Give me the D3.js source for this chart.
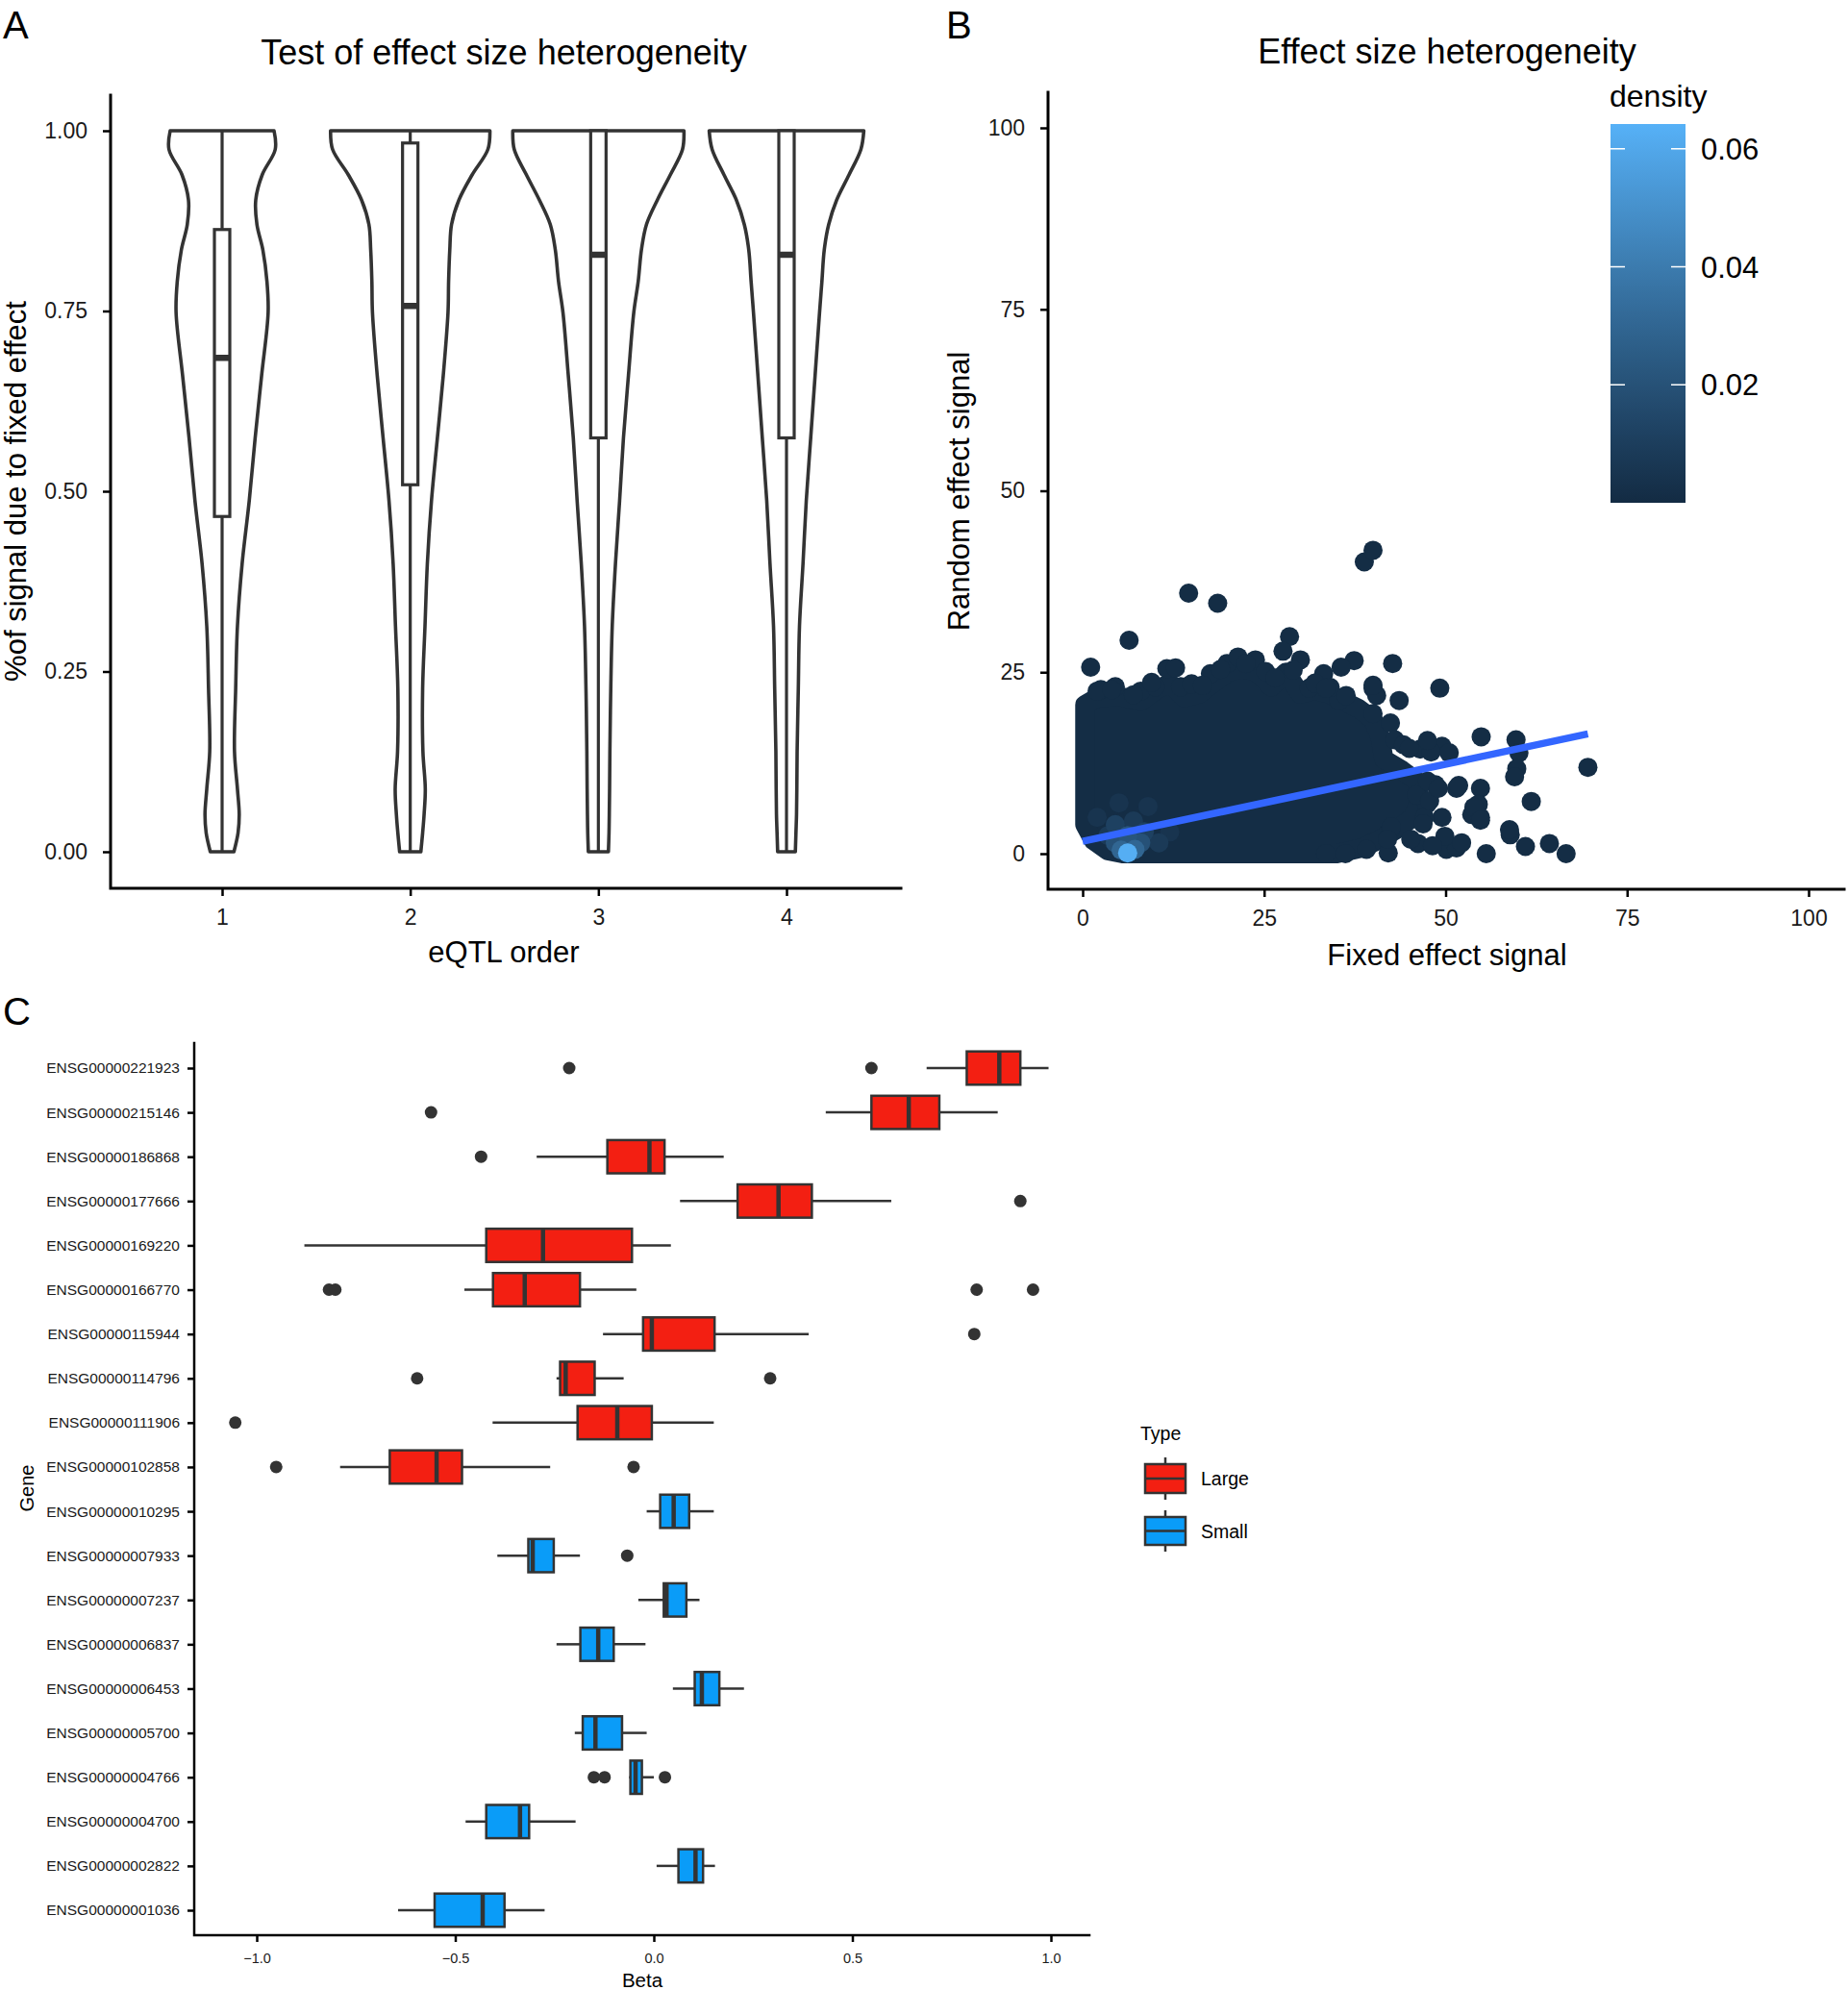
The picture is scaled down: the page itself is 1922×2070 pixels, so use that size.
<!DOCTYPE html>
<html><head><meta charset="utf-8">
<script src="https://cdn.jsdelivr.net/npm/d3@7"></script>
<style>
body{margin:0;background:#fff;}
svg{display:block;}
</style>
</head><body>
<svg id="fig" width="1922" height="2070"></svg>
<script>
// ================= DATA =================
// ---- Panel A: violins (eQTL order) ----
const violinOrders = [1, 2, 3, 4];
const violinGrid = [0, 0.026, 0.052, 0.087, 0.139, 0.226, 0.313, 0.4, 0.487, 0.574, 0.661, 0.748, 0.791, 0.835, 0.870, 0.904, 0.939, 0.974, 1.0];
const violinDensity1 = [0.20,0.27,0.29,0.26,0.21,0.23,0.26,0.34,0.46,0.56,0.67,0.78,0.76,0.69,0.59,0.57,0.68,0.90,0.88];
const violinDensity2 = [0.18,0.21,0.235,0.255,0.215,0.21,0.25,0.29,0.36,0.46,0.56,0.64,0.65,0.67,0.70,0.825,1.05,1.315,1.35];
const violinDensity3 = [0.17,0.18,0.185,0.19,0.195,0.21,0.235,0.29,0.36,0.425,0.51,0.60,0.675,0.73,0.815,1.00,1.22,1.425,1.45];
const violinDensity4 = [0.15,0.16,0.17,0.175,0.18,0.20,0.22,0.28,0.335,0.41,0.485,0.56,0.60,0.64,0.715,0.85,1.06,1.26,1.31];
const aBoxLower  = [0, 0, 0, 0];
const aBoxQ1     = [0.465, 0.509, 0.574, 0.574];
const aBoxMedian = [0.685, 0.757, 0.828, 0.828];
const aBoxQ3     = [0.863, 0.983, 1.0, 1.0];
const aBoxUpper  = [1, 1, 1, 1];
const aYTicks = [0, 0.25, 0.5, 0.75, 1.0];

// ---- Panel B: fixed vs random effect signal ----
const bTicks = [0, 25, 50, 75, 100];
// outline of the dense, fully overlapping point cloud (point centres)
const blobX = [0.3,0.3,2,5,8,10,12,14,16,18,20,22,24,26,28,30,32,34,36,38,40,41,41.5,44,46,46.5,45.5,43.5,41,38.5,35,5.5,3.5,1.5];
const blobY = [4,20.5,21.5,21.7,21,22.5,23.5,21.5,22,23.5,25,25.5,25,23,25,22,22.5,22,21,20,18.5,16,13,11.5,10,7.5,5,3.5,2,0.8,0,0,0.4,1.8];
// individual points around the dense cloud
const ptX = [1.1,6.4,14.6,18.6,38.8,40.0,28.5,27.6,42.7,37.4,35.6,33.2,43.6,40.0,40.5,49.2,11.6,12.8,17.6,19.9,21.4,23.8,25.2,30.0,31.2,35.3,40.0,42.4,43.0,44.2,46.5,49.5,54.9,59.7,60.1,59.8,59.5,69.6,61.8,54.8,54.5,54.8,53.6,51.5,49.5,48.6,47.4,47.1,46.2,50.1,51.5,42.1,42.4,39.1,36.2,33.5,55.6,58.9,61.0,64.3,66.6,8.0,10.0,2.5,4.5,34.1,36.3,40.0,51.8,53.9,54.8,46.0,47.8,46.9,42.5,42.0,45.2,49.9,52.2,48.2,58.8,47.5,49.0,45.0,48.0,47.5,50.5,2.0,4.0,7.0,9.5,13.5,15.0,16.5,19.0,22.5,26.5,29.0,32.0,33.5];
const ptY = [25.7,29.4,35.9,34.5,40.2,41.8,29.9,27.9,26.2,26.6,25.7,24.8,21.1,22.8,21.8,22.8,25.5,25.6,24.8,26.2,27.1,26.7,25.1,26.7,22.8,21.1,19.3,18.0,15.7,15.0,14.4,14.8,16.1,15.7,13.9,11.7,10.6,11.9,7.2,9.0,6.8,5.0,5.4,9.0,5.0,9.5,6.8,5.0,1.4,0.6,0.8,0.1,3.2,0.6,0,0,0,2.6,1.0,1.4,0,22.4,23.0,22.6,23.0,22.9,21.8,23.2,9.4,6.4,4.6,8.1,7.3,4.1,3.7,2.0,2.0,2.4,1.5,1.1,3.3,10.0,9.0,14.5,14.0,15.6,13.9,22.4,22.6,21.9,23.6,23.0,23.4,23.2,25.4,26.2,24.2,25.3,23.5,22.8];
// denser (lighter) points in the lower-left corner, with their density
const lightX = [2,5,9,12,3.5,7,10.5,4.5,8.5,4.5,8.0,6.2,5.3,7.2,6.2];
const lightY = [5,7,6.5,3,2.5,4.5,1.5,4,3,1.5,1.5,2.5,0.5,0.6,0.1];
const lightD = [0.005,0.005,0.005,0.005,0.008,0.008,0.008,0.012,0.012,0.02,0.02,0.022,0.03,0.03,0.063];
const blobDensity = 0.001;
const lmX = [0, 69.6];
const lmY = [1.7, 16.5];
const densityTicks = [0.02, 0.04, 0.06];
const densityRange = [0, 0.0642];

// ---- Panel C: per-gene beta boxplots ----
const genes = ["ENSG00000221923","ENSG00000215146","ENSG00000186868","ENSG00000177666","ENSG00000169220","ENSG00000166770","ENSG00000115944","ENSG00000114796","ENSG00000111906","ENSG00000102858","ENSG00000010295","ENSG00000007933","ENSG00000007237","ENSG00000006837","ENSG00000006453","ENSG00000005700","ENSG00000004766","ENSG00000004700","ENSG00000002822","ENSG00000001036"];
const geneType = ["Large","Large","Large","Large","Large","Large","Large","Large","Large","Large","Small","Small","Small","Small","Small","Small","Small","Small","Small","Small"];
const cLower  = [0.687,0.433,-0.295,0.066,-0.880,-0.477,-0.128,-0.245,-0.406,-0.790,-0.018,-0.394,-0.039,-0.245,0.048,-0.199,-0.062,-0.474,0.007,-0.644];
const cQ1     = [0.788,0.548,-0.117,0.211,-0.422,-0.405,-0.027,-0.236,-0.192,-0.665,0.016,-0.316,0.025,-0.185,0.103,-0.179,-0.059,-0.422,0.062,-0.552];
const cMedian = [0.870,0.642,-0.011,0.314,-0.279,-0.325,-0.005,-0.222,-0.092,-0.547,0.050,-0.305,0.032,-0.140,0.121,-0.147,-0.046,-0.337,0.105,-0.431];
const cQ3     = [0.923,0.719,0.027,0.398,-0.055,-0.186,0.153,-0.149,-0.005,-0.483,0.089,-0.252,0.082,-0.101,0.165,-0.080,-0.030,-0.314,0.124,-0.376];
const cUpper  = [0.994,0.866,0.176,0.598,0.043,-0.044,0.390,-0.076,0.151,-0.261,0.151,-0.186,0.115,-0.021,0.227,-0.018,0.000,-0.197,0.154,-0.275];
const outlierGene = ["ENSG00000221923","ENSG00000221923","ENSG00000215146","ENSG00000186868","ENSG00000177666","ENSG00000166770","ENSG00000166770","ENSG00000166770","ENSG00000166770","ENSG00000115944","ENSG00000114796","ENSG00000114796","ENSG00000111906","ENSG00000102858","ENSG00000102858","ENSG00000007933","ENSG00000004766","ENSG00000004766","ENSG00000004766"];
const outlierBeta = [-0.213,0.548,-0.561,-0.435,0.923,-0.818,-0.802,0.813,0.955,0.807,-0.596,0.293,-1.054,-0.951,-0.051,-0.067,-0.151,-0.124,0.028];
const cTicks = [-1.0, -0.5, 0.0, 0.5, 1.0];
const typeNames = ["Large", "Small"];
const typeColors = ["#F31F12", "#0A9CF8"];

// ================= DRAWING =================
const FONT = '"Liberation Sans", Arial, Helvetica, sans-serif';
const INK = '#333333';
const svg = d3.select('#fig').attr('font-family', FONT);

function styleAxis(g, fs) {
  g.attr('font-family', FONT);
  g.select('.domain').remove();
  g.selectAll('.tick line').attr('stroke', '#000').attr('stroke-width', 2.5);
  g.selectAll('.tick text').attr('fill', '#1a1a1a').style('font-size', fs + 'px');
}
function axisLines(g, x0, yTop, yBot, xEnd, w) {
  g.append('path').attr('d', `M${x0},${yTop}V${yBot}H${xEnd}`)
    .attr('fill', 'none').attr('stroke', '#000').attr('stroke-width', w).attr('stroke-linecap', 'square');
}
function label(g, txt, x, y, fs, anchor, rot) {
  const t = g.append('text').text(txt).attr('x', x).attr('y', y)
    .attr('font-size', fs).attr('text-anchor', anchor || 'middle').attr('fill', '#000');
  if (rot) t.attr('transform', `rotate(${rot},${x},${y})`);
  return t;
}

// ---------- Panel A ----------
(function () {
  const g = svg.append('g');
  const x = d3.scalePoint().domain(violinOrders).range([231, 818]);
  const y = d3.scaleLinear().domain([0, 1]).range([886, 136]);
  const w = d3.scaleLinear().domain([0, 1.45]).range([0, 89]);
  const dens = [violinDensity1, violinDensity2, violinDensity3, violinDensity4];
  violinOrders.forEach((o, i) => {
    const pts = violinGrid.map((v, j) => ({ v, d: dens[i][j] }));
    const area = d3.area().y(d => y(d.v)).x0(d => x(o) - w(d.d)).x1(d => x(o) + w(d.d))
      .curve(d3.curveCatmullRom.alpha(0.5));
    g.append('path').attr('d', area(pts)).attr('fill', '#fff').attr('stroke', INK)
      .attr('stroke-width', 3.6).attr('stroke-linejoin', 'round');
    const cx = x(o), bw = 16;
    g.append('line').attr('x1', cx).attr('x2', cx).attr('y1', y(aBoxLower[i])).attr('y2', y(aBoxQ1[i]))
      .attr('stroke', INK).attr('stroke-width', 3.2);
    g.append('line').attr('x1', cx).attr('x2', cx).attr('y1', y(aBoxQ3[i])).attr('y2', y(aBoxUpper[i]))
      .attr('stroke', INK).attr('stroke-width', 3.2);
    g.append('rect').attr('x', cx - bw / 2).attr('width', bw).attr('y', y(aBoxQ3[i]))
      .attr('height', y(aBoxQ1[i]) - y(aBoxQ3[i])).attr('fill', '#fff').attr('stroke', INK).attr('stroke-width', 3.2);
    g.append('line').attr('x1', cx - bw / 2).attr('x2', cx + bw / 2).attr('y1', y(aBoxMedian[i])).attr('y2', y(aBoxMedian[i]))
      .attr('stroke', INK).attr('stroke-width', 6.5);
  });
  const ay = g.append('g').attr('transform', 'translate(115,0)')
    .call(d3.axisLeft(y).tickValues(aYTicks).tickFormat(d3.format('.2f')).tickSize(8).tickPadding(16));
  styleAxis(ay, 23);
  const ax = g.append('g').attr('transform', 'translate(0,924)')
    .call(d3.axisBottom(x).tickSize(8).tickPadding(14));
  styleAxis(ax, 23);
  axisLines(g, 115, 99, 924, 937, 3);
  label(g, 'Test of effect size heterogeneity', 524, 67, 36);
  label(g, 'eQTL order', 524, 1001, 31);
  label(g, '%of signal due to fixed effect', 27, 511, 31, 'middle', -90);
  label(g, 'A', 3, 40, 40, 'start');
})();

// ---------- Panel B ----------
(function () {
  const g = svg.append('g');
  const x = d3.scaleLinear().domain([0, 100]).range([1126, 1881]);
  const y = d3.scaleLinear().domain([0, 100]).range([888, 133]);
  const col = d3.scaleLinear().domain(densityRange).range(['#132B43', '#56B1F7']).interpolate(d3.interpolateLab);
  const r = 10;
  const blobPts = blobX.map((v, i) => [x(v), y(blobY[i])]);
  g.append('path').attr('d', d3.line().curve(d3.curveLinearClosed)(blobPts))
    .attr('fill', col(blobDensity)).attr('stroke', col(blobDensity))
    .attr('stroke-width', 2 * r).attr('stroke-linejoin', 'round');
  g.selectAll('circle.pt').data(ptX.map((v, i) => [v, ptY[i]])).join('circle').attr('class', 'pt')
    .attr('cx', d => x(d[0])).attr('cy', d => y(d[1])).attr('r', r).attr('fill', col(blobDensity));
  g.selectAll('circle.lt').data(lightX.map((v, i) => [v, lightY[i], lightD[i]])).join('circle').attr('class', 'lt')
    .attr('cx', d => x(d[0])).attr('cy', d => y(d[1])).attr('r', r).attr('fill', d => col(d[2]));
  g.append('line').attr('x1', x(lmX[0])).attr('y1', y(lmY[0])).attr('x2', x(lmX[1])).attr('y2', y(lmY[1]))
    .attr('stroke', '#3366FF').attr('stroke-width', 7.5);

  const ay = g.append('g').attr('transform', 'translate(1090,0)')
    .call(d3.axisLeft(y).tickValues(bTicks).tickSize(8).tickPadding(16));
  styleAxis(ay, 23);
  const ax = g.append('g').attr('transform', 'translate(0,925)')
    .call(d3.axisBottom(x).tickValues(bTicks).tickSize(8).tickPadding(14));
  styleAxis(ax, 23);
  axisLines(g, 1090, 96, 925, 1918, 3);
  label(g, 'Effect size heterogeneity', 1505, 66, 36);
  label(g, 'Fixed effect signal', 1505, 1004, 31);
  label(g, 'Random effect signal', 1008, 511, 31, 'middle', -90);
  label(g, 'B', 984, 40, 40, 'start');

  // colour bar legend
  const cb = d3.scaleLinear().domain(densityRange).range([523, 129]);
  const defs = svg.append('defs');
  const grad = defs.append('linearGradient').attr('id', 'dgrad').attr('x1', 0).attr('x2', 0).attr('y1', 1).attr('y2', 0);
  d3.range(0, 11).forEach(k => {
    const v = densityRange[0] + (densityRange[1] - densityRange[0]) * k / 10;
    grad.append('stop').attr('offset', (k * 10) + '%').attr('stop-color', col(v));
  });
  g.append('rect').attr('x', 1675).attr('y', cb(densityRange[1])).attr('width', 78)
    .attr('height', cb(densityRange[0]) - cb(densityRange[1])).attr('fill', 'url(#dgrad)');
  densityTicks.forEach(t => {
    g.append('line').attr('x1', 1675).attr('x2', 1690).attr('y1', cb(t)).attr('y2', cb(t)).attr('stroke', '#fff').attr('stroke-width', 1.5);
    g.append('line').attr('x1', 1738).attr('x2', 1753).attr('y1', cb(t)).attr('y2', cb(t)).attr('stroke', '#fff').attr('stroke-width', 1.5);
    label(g, d3.format('.2f')(t), 1769, cb(t) + 11, 31, 'start');
  });
  label(g, 'density', 1674, 111, 32, 'start');
})();

// ---------- Panel C ----------
(function () {
  const g = svg.append('g');
  const x = d3.scaleLinear().domain([-1, 1]).range([267, 1093]);
  const y = d3.scalePoint().domain(genes).range([1111, 1987]);
  const color = d3.scaleOrdinal().domain(typeNames).range(typeColors);
  const bh = 34.6;
  genes.forEach((gn, i) => {
    const cy = y(gn);
    g.append('line').attr('x1', x(cLower[i])).attr('x2', x(cQ1[i])).attr('y1', cy).attr('y2', cy).attr('stroke', INK).attr('stroke-width', 2.5);
    g.append('line').attr('x1', x(cQ3[i])).attr('x2', x(cUpper[i])).attr('y1', cy).attr('y2', cy).attr('stroke', INK).attr('stroke-width', 2.5);
    g.append('rect').attr('x', x(cQ1[i])).attr('width', x(cQ3[i]) - x(cQ1[i])).attr('y', cy - bh / 2).attr('height', bh)
      .attr('fill', color(geneType[i])).attr('stroke', INK).attr('stroke-width', 2.5);
    g.append('line').attr('x1', x(cMedian[i])).attr('x2', x(cMedian[i])).attr('y1', cy - bh / 2).attr('y2', cy + bh / 2)
      .attr('stroke', INK).attr('stroke-width', 4.5);
  });
  g.selectAll('circle.out').data(outlierGene.map((gn, i) => [gn, outlierBeta[i]])).join('circle').attr('class', 'out')
    .attr('cx', d => x(d[1])).attr('cy', d => y(d[0])).attr('r', 6.5).attr('fill', INK);

  const ay = g.append('g').attr('transform', 'translate(202,0)')
    .call(d3.axisLeft(y).tickSize(7).tickPadding(8));
  styleAxis(ay, 15.5);
  const ax = g.append('g').attr('transform', 'translate(0,2013)')
    .call(d3.axisBottom(x).tickValues(cTicks).tickFormat(d3.format('.1f')).tickSize(7).tickPadding(12));
  styleAxis(ax, 14.5);
  axisLines(g, 202, 1085, 2013, 1133, 2.5);
  label(g, 'Beta', 668, 2067, 20.5);
  label(g, 'Gene', 35, 1548, 20, 'middle', -90);
  label(g, 'C', 3, 1066, 40, 'start');

  // legend
  label(g, 'Type', 1186, 1498, 19.5, 'start');
  const keys = [{ top: 1523, bot: 1553 }, { top: 1578, bot: 1607 }];
  keys.forEach((k, i) => {
    const cx = 1212, mid = (k.top + k.bot) / 2;
    g.append('line').attr('x1', cx).attr('x2', cx).attr('y1', k.top - 7).attr('y2', k.bot + 7).attr('stroke', INK).attr('stroke-width', 2.5);
    g.append('rect').attr('x', 1191).attr('y', k.top).attr('width', 42).attr('height', k.bot - k.top)
      .attr('fill', color(typeNames[i])).attr('stroke', INK).attr('stroke-width', 2.5);
    g.append('line').attr('x1', 1191).attr('x2', 1233).attr('y1', mid).attr('y2', mid).attr('stroke', INK).attr('stroke-width', 2.5);
    label(g, typeNames[i], 1249, mid + 7, 19.5, 'start');
  });
})();
</script>
</body></html>
